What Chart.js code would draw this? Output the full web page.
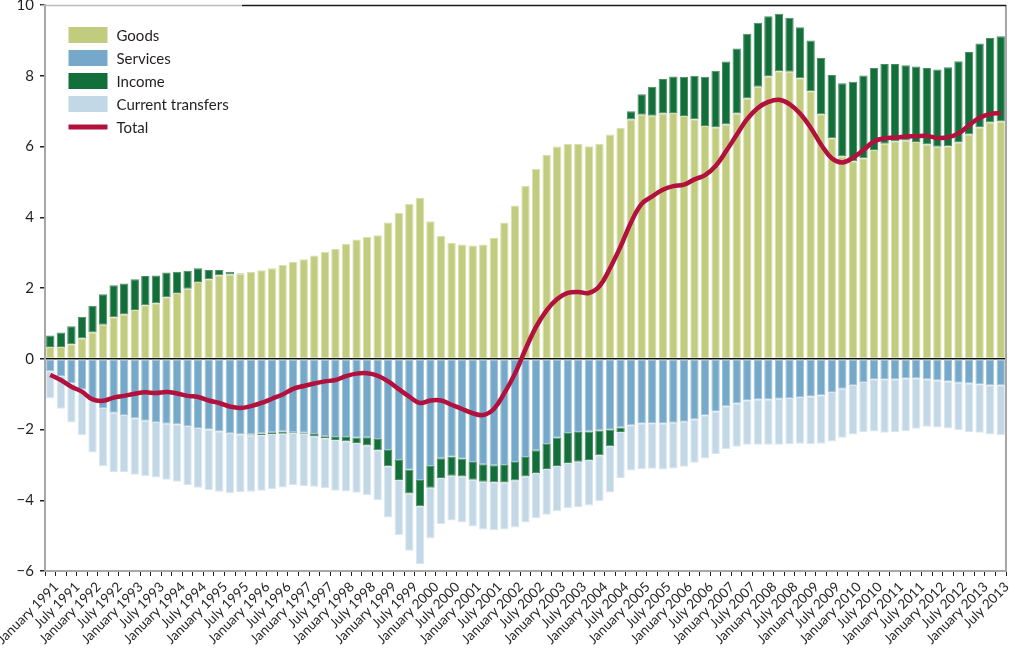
<!DOCTYPE html>
<html lang="en">
<head>
    <meta charset="UTF-8">
    <meta name="viewport" content="width=device-width, initial-scale=1.0">
    <title>Current account components</title>
    <script src="https://cdn.jsdelivr.net/npm/chart.js@4.4.1/dist/chart.umd.min.js"></script>
    <style>
        html, body { margin: 0; padding: 0; background: #fff; }
        .chart-container { position: relative; width: 1016px; height: 661px; }
    </style>
</head>
<body>
    <div class="chart-container">
        <canvas id="caChart"></canvas>
    </div>

    <script>
        // quarterly categories, January 1991 .. July 2013
        const years = [1991, 1992, 1993, 1994, 1995, 1996, 1997, 1998, 1999, 2000, 2001, 2002,
                       2003, 2004, 2005, 2006, 2007, 2008, 2009, 2010, 2011, 2012, 2013];
        const quarterMonths = ['January', 'April', 'July', 'October'];
        const categories = [];
        years.forEach(y => quarterMonths.forEach(m => categories.push(m + ' ' + y)));
        categories.length = 91;

        const yTicks = [-6, -4, -2, 0, 2, 4, 6, 8, 10];

        const goods = [
            0.33, 0.33, 0.41, 0.57, 0.74, 0.96, 1.17, 1.25, 1.38, 1.51,
            1.57, 1.74, 1.86, 1.98, 2.17, 2.25, 2.36, 2.38, 2.40, 2.45,
            2.50, 2.56, 2.65, 2.74, 2.81, 2.92, 3.02, 3.10, 3.25, 3.37,
            3.44, 3.49, 3.85, 4.13, 4.38, 4.55, 3.89, 3.48, 3.28, 3.23,
            3.20, 3.23, 3.42, 3.85, 4.33, 4.88, 5.37, 5.77, 6.00, 6.08,
            6.08, 6.01, 6.08, 6.34, 6.53, 6.76, 6.90, 6.87, 6.93, 6.95,
            6.86, 6.77, 6.58, 6.54, 6.62, 6.93, 7.36, 7.69, 7.98, 8.13,
            8.11, 7.93, 7.56, 6.91, 6.23, 5.72, 5.58, 5.67, 5.90, 6.08,
            6.15, 6.17, 6.13, 6.06, 5.99, 6.01, 6.11, 6.34, 6.54, 6.68,
            6.71
        ];
        const services = [
            -0.35, -0.49, -0.69, -0.87, -1.17, -1.39, -1.53, -1.59, -1.68, -1.75,
            -1.79, -1.84, -1.85, -1.90, -1.96, -2.00, -2.06, -2.10, -2.14, -2.14,
            -2.11, -2.08, -2.06, -2.07, -2.09, -2.13, -2.19, -2.21, -2.21, -2.23,
            -2.22, -2.27, -2.58, -2.86, -3.14, -3.43, -3.03, -2.81, -2.77, -2.83,
            -2.92, -2.98, -3.01, -3.00, -2.92, -2.78, -2.59, -2.41, -2.23, -2.10,
            -2.07, -2.06, -2.03, -2.01, -1.94, -1.88, -1.83, -1.82, -1.83, -1.81,
            -1.78, -1.71, -1.60, -1.49, -1.34, -1.26, -1.18, -1.15, -1.15, -1.13,
            -1.11, -1.08, -1.07, -1.03, -0.94, -0.85, -0.74, -0.66, -0.58, -0.58,
            -0.58, -0.56, -0.56, -0.58, -0.61, -0.64, -0.68, -0.70, -0.72, -0.75,
            -0.75
        ];
        const income = [
            0.33, 0.41, 0.51, 0.62, 0.76, 0.86, 0.91, 0.88, 0.87, 0.83,
            0.78, 0.70, 0.60, 0.51, 0.39, 0.26, 0.15, 0.08, 0.02, -0.03,
            -0.05, -0.05, -0.06, -0.02, -0.03, -0.07, -0.06, -0.09, -0.12, -0.15,
            -0.23, -0.32, -0.46, -0.57, -0.67, -0.74, -0.62, -0.56, -0.54, -0.50,
            -0.50, -0.50, -0.48, -0.50, -0.52, -0.55, -0.64, -0.71, -0.80, -0.85,
            -0.84, -0.80, -0.70, -0.46, -0.13, 0.24, 0.58, 0.82, 0.98, 1.03,
            1.11, 1.23, 1.39, 1.60, 1.78, 1.84, 1.83, 1.81, 1.70, 1.62,
            1.53, 1.44, 1.44, 1.59, 1.79, 2.07, 2.25, 2.34, 2.32, 2.25,
            2.18, 2.13, 2.13, 2.16, 2.19, 2.23, 2.30, 2.33, 2.37, 2.39,
            2.41
        ];
        const transfers = [
            -0.77, -0.92, -1.11, -1.29, -1.48, -1.64, -1.67, -1.61, -1.60, -1.57,
            -1.57, -1.58, -1.63, -1.67, -1.69, -1.71, -1.70, -1.70, -1.63, -1.59,
            -1.57, -1.56, -1.52, -1.48, -1.48, -1.42, -1.41, -1.43, -1.42, -1.41,
            -1.40, -1.40, -1.45, -1.56, -1.62, -1.63, -1.43, -1.30, -1.26, -1.30,
            -1.32, -1.35, -1.36, -1.33, -1.33, -1.30, -1.28, -1.29, -1.28, -1.27,
            -1.28, -1.29, -1.29, -1.31, -1.31, -1.28, -1.29, -1.29, -1.30, -1.29,
            -1.27, -1.23, -1.22, -1.20, -1.21, -1.23, -1.25, -1.28, -1.28, -1.30,
            -1.30, -1.32, -1.34, -1.37, -1.40, -1.38, -1.40, -1.41, -1.48, -1.51,
            -1.49, -1.48, -1.42, -1.34, -1.33, -1.33, -1.34, -1.37, -1.37, -1.39,
            -1.41
        ];
        const total = [
            -0.46, -0.60, -0.79, -0.93, -1.15, -1.19, -1.10, -1.05, -0.99, -0.95,
            -0.97, -0.94, -0.98, -1.05, -1.08, -1.18, -1.25, -1.35, -1.39, -1.34,
            -1.25, -1.13, -1.01, -0.85, -0.77, -0.70, -0.64, -0.60, -0.49, -0.42,
            -0.41, -0.48, -0.64, -0.86, -1.07, -1.25, -1.18, -1.18, -1.30, -1.42,
            -1.54, -1.59, -1.42, -0.97, -0.42, 0.27, 0.90, 1.37, 1.69, 1.86,
            1.89, 1.86, 2.05, 2.56, 3.17, 3.86, 4.38, 4.59, 4.78, 4.88,
            4.92, 5.07, 5.19, 5.45, 5.87, 6.33, 6.78, 7.09, 7.26, 7.32,
            7.20, 6.93, 6.53, 6.05, 5.67, 5.55, 5.68, 5.90, 6.14, 6.23,
            6.25, 6.28, 6.29, 6.30, 6.24, 6.26, 6.37, 6.60, 6.81, 6.92,
            6.94
        ];

        const textColor = '#231f20';
        const axisGrey = '#a7a7a7';

        function barSet(label, data, color, edge) {
            return {
                type: 'bar',
                label: label,
                data: data,
                backgroundColor: color,
                borderColor: edge,
                borderWidth: 1,
                borderSkipped: false,
                barPercentage: 0.79,
                categoryPercentage: 1.0,
                stack: 'components',
                order: 1
            };
        }

        const datasets = [
            barSet('Goods', goods, '#c1cc7e', '#d9e0b0'),
            barSet('Services', services, '#76a9c9', '#9fc3da'),
            barSet('Income', income, '#126f39', '#4c8d63'),
            barSet('Current transfers', transfers, '#c3d8e6', '#dae7f0'),
            {
                type: 'line',
                label: 'Total',
                data: total,
                borderColor: '#b2103d',
                borderWidth: 4.5,
                pointRadius: 0,
                tension: 0.4,
                fill: false,
                stack: 'total',
                order: 0
            }
        ];

        // legend drawn inside the plot area, top left
        const insideLegend = {
            id: 'insideLegend',
            afterDraw(chart) {
                const ctx = chart.ctx;
                const a = chart.chartArea;
                ctx.save();
                ctx.font = '15px Lato, "Open Sans", sans-serif';
                ctx.textBaseline = 'middle';
                chart.data.datasets.forEach((ds, i) => {
                    const x = a.left + 23.5;
                    const y = a.top + 30 + i * 23;
                    if (ds.type === 'line') {
                        ctx.fillStyle = ds.borderColor;
                        ctx.fillRect(x, y - 2.5, 39, 5);
                    } else {
                        ctx.fillStyle = ds.backgroundColor;
                        ctx.fillRect(x, y - 8, 39, 16);
                    }
                    ctx.fillStyle = textColor;
                    ctx.fillText(ds.label, x + 48, y + 1);
                });
                ctx.restore();
            }
        };

        // right border and top line of the frame
        const frame = {
            id: 'frame',
            afterDraw(chart) {
                const ctx = chart.ctx;
                const a = chart.chartArea;
                ctx.save();
                ctx.lineWidth = 2;
                ctx.strokeStyle = axisGrey;
                ctx.beginPath();
                ctx.moveTo(a.right, a.top);
                ctx.lineTo(a.right, a.bottom);
                ctx.stroke();
                ctx.lineWidth = 1.5;
                ctx.strokeStyle = '#bbbbbb';
                ctx.beginPath();
                ctx.moveTo(a.left - 4, a.top + 0.5);
                ctx.lineTo(a.left + 197, a.top + 0.5);
                ctx.stroke();
                ctx.strokeStyle = '#1a1a1a';
                ctx.beginPath();
                ctx.moveTo(a.left + 197, a.top + 0.5);
                ctx.lineTo(a.right, a.top + 0.5);
                ctx.stroke();
                ctx.restore();
            }
        };

        const config = {
            data: { labels: categories, datasets: datasets },
            options: {
                responsive: true,
                maintainAspectRatio: false,
                animation: false,
                layout: { padding: { top: 5, right: 10, left: 0, bottom: 0 } },
                scales: {
                    x: {
                        stacked: true,
                        offset: true,
                        grid: {
                            offset: true,
                            color: 'transparent',
                            tickColor: '#222',
                            tickLength: 5,
                            lineWidth: 1
                        },
                        border: { color: axisGrey, width: 2 },
                        ticks: {
                            autoSkip: false,
                            maxRotation: 45,
                            minRotation: 45,
                            padding: 3,
                            labelOffset: 6,
                            color: textColor,
                            font: { family: 'Lato, "Open Sans", sans-serif', size: 13.5 },
                            callback: function (value, index) {
                                return index % 2 === 0 ? categories[index] : '';
                            }
                        },
                        afterFit(scale) {
                            scale.height = 90;
                            scale.paddingLeft = 0;
                            scale.paddingRight = 0;
                        }
                    },
                    y: {
                        stacked: true,
                        min: -6,
                        max: 10,
                        afterBuildTicks(scale) {
                            scale.ticks = yTicks.map(v => ({ value: v }));
                        },
                        grid: {
                            color: ctx => ctx.tick && ctx.tick.value === 0 ? '#111' : 'transparent',
                            lineWidth: 1.5,
                            tickColor: '#222',
                            tickLength: 5,
                            drawOnChartArea: true
                        },
                        border: { color: axisGrey, width: 2 },
                        ticks: {
                            padding: 6,
                            color: textColor,
                            font: { family: 'Lato, "Open Sans", sans-serif', size: 15 },
                            callback: v => v < 0 ? '\u2212' + Math.abs(v) : String(v)
                        },
                        afterFit(scale) {
                            scale.width = 45;
                            scale.paddingTop = 0;
                            scale.paddingBottom = 0;
                        }
                    }
                },
                plugins: {
                    legend: { display: false },
                    tooltip: { enabled: false }
                }
            },
            plugins: [insideLegend, frame]
        };

        new Chart(document.getElementById('caChart').getContext('2d'), config);
    </script>
</body>
</html>
